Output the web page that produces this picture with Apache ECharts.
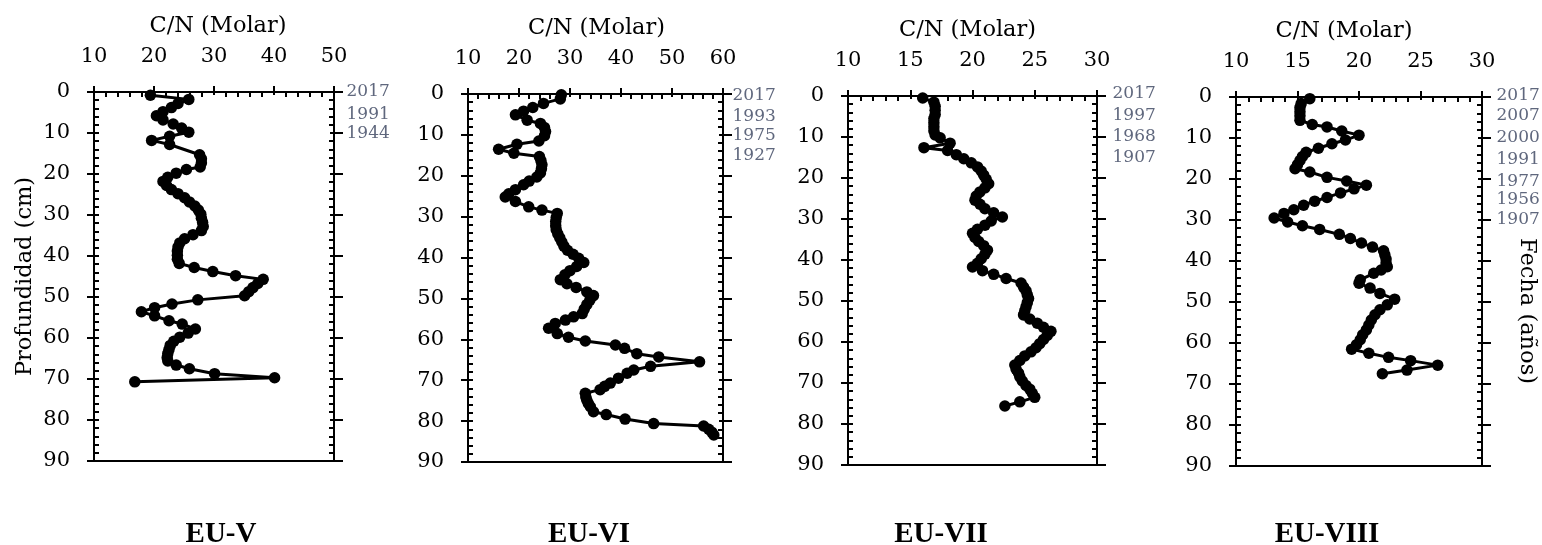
<!DOCTYPE html>
<html><head><meta charset="utf-8">
<script src="https://cdn.jsdelivr.net/npm/echarts@6/dist/echarts.min.js"></script>
<style>html,body{margin:0;padding:0;background:#fff}#c{width:1542px;height:545px}</style>
</head><body><div id="c"></div>
<script>
// ---------- DATA ----------
const panelNames = ['EU-V', 'EU-VI', 'EU-VII', 'EU-VIII'];
const depthTicks = [0, 10, 20, 30, 40, 50, 60, 70, 80, 90];

// EU-V
const depthV = [0.8,1.8,2.8,3.8,4.8,5.8,6.8,7.8,8.8,9.8,10.8,11.8,12.8,15.3,16.3,17.3,18.3,18.9,19.8,20.8,21.8,22.8,23.8,24.8,25.8,26.8,27.8,28.8,29.8,30.8,31.8,32.8,33.8,34.8,35.8,36.8,37.8,38.8,39.8,40.8,41.8,42.8,43.8,44.8,45.7,46.7,47.7,48.7,49.7,50.7,51.7,52.6,53.6,54.6,55.8,56.6,57.8,58.8,59.8,60.8,61.8,62.8,63.8,64.8,65.6,66.6,67.5,68.7,69.7,70.7];
const cnV    = [19.4,25.8,24.0,22.9,21.5,20.4,21.5,23.2,24.6,25.8,22.6,19.6,22.6,27.6,27.9,27.9,27.7,25.4,23.7,22.3,21.5,22.1,22.9,24.0,25.1,25.9,26.8,27.4,27.8,27.9,28.1,28.2,27.9,26.5,25.1,24.3,24.0,23.9,23.9,23.9,24.2,26.7,29.8,33.6,38.2,37.3,36.5,35.8,35.1,27.3,23.0,20.1,17.9,20.1,22.5,24.7,26.9,25.7,24.3,23.3,22.7,22.5,22.3,22.2,22.3,23.7,25.9,30.1,40.1,16.8];
const datesV = [[0, '2017'], [5.6, '1991'], [10.2, '1944']];

// EU-VI
const depthVI = [0.2,1.2,2.3,3.3,4.2,5.1,6.4,7.2,8.2,9.2,10.2,11.5,12.3,13.5,14.5,15.3,16.3,17.3,18.3,19.3,20.3,21.3,22.2,23.4,24.4,25.2,26.3,27.6,28.4,29.2,30.2,31.2,32.2,33.2,34.2,35.2,36.2,37.2,38.2,39.2,40.2,41.2,42.2,43.2,44.2,45.4,46.4,47.3,48.4,49.3,50.4,51.5,52.6,53.7,54.5,55.3,56.1,57.3,58.6,59.5,60.4,61.4,62.2,63.5,64.3,65.5,66.6,67.5,68.3,69.5,70.7,71.5,72.3,73.2,74.1,74.9,75.7,76.5,77.7,78.4,79.5,80.6,81.2,82.0,82.7,83.4];
const cnVI    = [28.3,28.1,24.8,22.7,20.9,19.3,21.6,24.2,25.0,25.2,25.0,23.9,19.6,16.0,19.0,24.0,24.3,24.5,24.4,24.2,23.5,22.0,20.9,19.3,18.0,17.3,19.3,21.9,24.5,27.5,27.3,27.2,27.2,27.3,27.6,28.0,28.4,28.8,29.5,30.6,31.7,32.7,31.3,30.0,29.0,28.1,29.4,31.2,33.3,34.6,33.9,33.3,32.8,32.4,30.7,29.1,27.1,25.8,27.5,29.7,33.0,38.9,40.7,43.1,47.4,55.4,45.8,42.5,41.2,39.5,37.9,36.8,35.9,33.0,33.1,33.3,33.6,34.0,34.6,37.1,40.8,46.4,56.2,57.2,57.8,58.2];
const datesVI = [[0.5, '2017'], [5.5, '1993'], [10.2, '1975'], [15.1, '1927']];

// EU-VII
const depthVII = [0.5,1.5,2.5,3.5,4.5,5.5,6.5,7.5,8.5,9.5,10.2,11.5,12.6,13.3,14.3,15.3,16.3,17.3,18.3,19.3,20.3,21.4,22.4,23.4,24.4,25.4,26.4,27.5,28.5,29.5,30.5,31.5,32.5,33.5,34.5,35.5,36.5,37.6,38.6,39.7,40.8,41.7,42.6,43.5,44.5,45.6,46.6,47.5,48.5,49.4,50.4,51.4,52.4,53.4,54.4,55.4,56.4,57.4,58.4,59.4,60.4,61.4,62.4,63.4,64.5,65.6,66.6,67.6,68.5,69.5,70.6,71.5,72.5,73.5,74.6,75.6];
const cnVII    = [16.0,16.9,17.0,17.0,17.0,16.9,16.9,16.9,16.9,17.0,17.4,18.2,16.1,18.0,18.7,19.3,19.9,20.4,20.7,20.9,21.1,21.3,21.0,20.6,20.3,20.2,20.6,21.0,21.7,22.4,21.5,21.0,20.4,20.0,20.2,20.5,20.9,21.2,21.0,20.7,20.4,20.0,20.8,21.7,22.7,23.9,24.1,24.3,24.4,24.5,24.4,24.3,24.2,24.1,24.6,25.2,25.7,26.3,26.0,25.7,25.4,25.1,24.7,24.2,23.8,23.4,23.5,23.7,23.8,24.0,24.3,24.6,24.8,25.0,23.8,22.6];
const datesVII = [[-0.5, '2017'], [4.8, '1997'], [10, '1968'], [14.9, '1907']];

// EU-VIII
const depthVIII = [0.4,1.6,2.6,3.6,4.6,5.7,6.7,7.3,8.3,9.3,10.5,11.4,12.5,13.5,14.5,15.5,16.5,17.5,18.3,19.6,20.5,21.5,22.4,23.4,24.5,25.4,26.4,27.5,28.4,29.5,30.5,31.4,32.3,33.5,34.5,35.6,36.6,37.5,38.5,39.5,40.5,41.4,42.2,43.0,44.6,45.4,46.6,47.9,49.3,50.7,51.9,53.1,54.4,55.6,56.8,58.0,59.2,60.4,61.5,62.5,63.5,64.3,65.4,66.6,67.5];
const cnVIII    = [16.0,15.3,15.2,15.2,15.2,15.2,16.2,17.4,18.6,20.0,18.9,17.8,16.7,15.7,15.4,15.2,15.0,14.8,16.0,17.4,19.0,20.6,19.6,18.5,17.4,16.4,15.5,14.7,13.9,13.1,14.2,15.4,16.8,18.4,19.3,20.2,21.1,22.0,22.1,22.2,22.2,22.3,21.8,21.2,20.1,20.0,20.9,21.7,22.9,22.3,21.7,21.3,21.0,20.8,20.6,20.3,20.1,19.8,19.4,20.8,22.4,24.2,26.4,23.9,21.9];
const datesVIII = [[-0.3, '2017'], [4.5, '2007'], [9.8, '2000'], [15.3, '1991'], [20.6, '1977'], [25.1, '1956'], [30, '1907']];

// x-axis scales (C/N)
const xMins = [10, 10, 10, 10];
const xMaxs = [50, 60, 30, 30];
const xIntervals = [10, 10, 5, 5];

// ---------- LAYOUT ----------
const FONT = 'DejaVu Serif';
const panels = [
  {depth: depthV, cn: cnV, dates: datesV, grid: {left: 94, top: 92, width: 240, height: 369}, titleX: 221, cnShift: 4, dateGap: 12},
  {depth: depthVI, cn: cnVI, dates: datesVI, grid: {left: 468, top: 94, width: 255, height: 368}, titleX: 589, cnShift: 1, dateGap: 9},
  {depth: depthVII, cn: cnVII, dates: datesVII, grid: {left: 848, top: 96, width: 249, height: 369}, titleX: 941, cnShift: -5, dateGap: 15},
  {depth: depthVIII, cn: cnVIII, dates: datesVIII, grid: {left: 1236, top: 97, width: 246, height: 369}, titleX: 1327, cnShift: -15, dateGap: 14}
];

const BLACK = '#000';
const grids = [], xAxes = [], yAxes = [], series = [], graphics = [];

panels.forEach((p, i) => {
  grids.push(Object.assign({show: true, borderColor: BLACK, borderWidth: 2, backgroundColor: 'transparent', containLabel: false}, p.grid));
  const sh = p.cnShift;
  const pad = sh >= 0 ? [0, 0, 0, 2 * sh] : [0, -2 * sh, 0, 0];
  const xBase = {gridIndex: i, type: 'value', position: 'top', min: xMins[i], max: xMaxs[i], interval: xIntervals[i], splitLine: {show: false}};
  xAxes.push(Object.assign({}, xBase, {
    axisLine: {show: true, lineStyle: {color: BLACK, width: 2}},
    axisTick: {show: true, inside: false, length: 6, lineStyle: {color: BLACK, width: 2}},
    minorTick: {show: false},
    axisLabel: {show: true, margin: 25, fontSize: 21, color: BLACK, fontFamily: FONT},
    name: 'C/N (Molar)', nameLocation: 'middle', nameGap: 54,
    nameTextStyle: {fontSize: 22.5, fontFamily: FONT, color: BLACK, padding: pad}
  }));
  xAxes.push(Object.assign({}, xBase, {
    axisLine: {show: false},
    axisTick: {show: true, inside: true, length: 3, lineStyle: {color: BLACK, width: 2}},
    minorTick: {show: true, splitNumber: 5, length: 5, lineStyle: {color: BLACK, width: 2}},
    axisLabel: {show: false}
  }));
  const yBase = {gridIndex: i, type: 'value', inverse: true, min: 0, max: 90, interval: 10, splitLine: {show: false}};
  yAxes.push(Object.assign({}, yBase, {
    position: 'left',
    axisLine: {show: true, lineStyle: {color: BLACK, width: 2}},
    axisTick: {show: true, inside: false, length: 7, lineStyle: {color: BLACK, width: 2}},
    minorTick: {show: false},
    axisLabel: {show: true, margin: 24, fontSize: 21, color: BLACK, fontFamily: FONT,
      formatter: v => depthTicks.includes(v) ? String(v) : ''},
    name: i === 0 ? 'Profundidad (cm)' : '', nameLocation: 'middle', nameGap: 57,
    nameTextStyle: {fontSize: 22.5, fontFamily: FONT, color: BLACK}
  }));
  yAxes.push(Object.assign({}, yBase, {
    position: 'left',
    axisLine: {show: false},
    axisTick: {show: true, inside: true, length: 5, lineStyle: {color: BLACK, width: 2}},
    minorTick: {show: true, splitNumber: 5, length: 5, lineStyle: {color: BLACK, width: 2}},
    axisLabel: {show: false}
  }));
  yAxes.push(Object.assign({}, yBase, {
    position: 'right',
    axisLine: {show: true, lineStyle: {color: BLACK, width: 2}},
    axisTick: {show: true, inside: false, length: 9, lineStyle: {color: BLACK, width: 2}},
    minorTick: {show: false},
    axisLabel: {show: false}
  }));
  yAxes.push(Object.assign({}, yBase, {
    position: 'right',
    axisLine: {show: false},
    axisTick: {show: true, inside: true, length: 4, lineStyle: {color: BLACK, width: 2}},
    minorTick: {show: true, splitNumber: 5, length: 5, lineStyle: {color: BLACK, width: 2}},
    axisLabel: {show: false}
  }));

  series.push({
    type: 'line', xAxisIndex: 2 * i, yAxisIndex: 4 * i,
    data: p.depth.map((d, k) => [p.cn[k], d]),
    symbol: 'circle', symbolSize: 11.5, showSymbol: true,
    lineStyle: {color: BLACK, width: 3}, itemStyle: {color: BLACK},
    clip: false, animation: false, z: 5
  });
  series.push({
    type: 'scatter', xAxisIndex: 2 * i, yAxisIndex: 4 * i,
    data: p.dates.map(d => [xMaxs[i], d[0], d[1]]),
    symbolSize: 1, itemStyle: {color: 'rgba(0,0,0,0)'},
    label: {show: true, position: 'right', distance: p.dateGap, formatter: q => q.data[2],
      color: '#37415C', fontSize: 17, fontFamily: FONT},
    clip: false, silent: true, animation: false
  });

  graphics.push({
    type: 'text', x: p.titleX, y: 535,
    style: {text: panelNames[i], align: 'center', verticalAlign: 'middle',
      font: 'bold 29px "Liberation Serif"', fill: BLACK}
  });
});

graphics.push({
  type: 'text', x: 1527, y: 311, rotation: -Math.PI / 2,
  style: {text: 'Fecha (años)', align: 'center', verticalAlign: 'middle',
    font: '22.5px "DejaVu Serif"', fill: BLACK}
});

const chart = echarts.init(document.getElementById('c'), null, {renderer: 'canvas'});
chart.setOption({
  animation: false,
  backgroundColor: '#fff',
  grid: grids, xAxis: xAxes, yAxis: yAxes, series: series, graphic: graphics
});
</script></body></html>
